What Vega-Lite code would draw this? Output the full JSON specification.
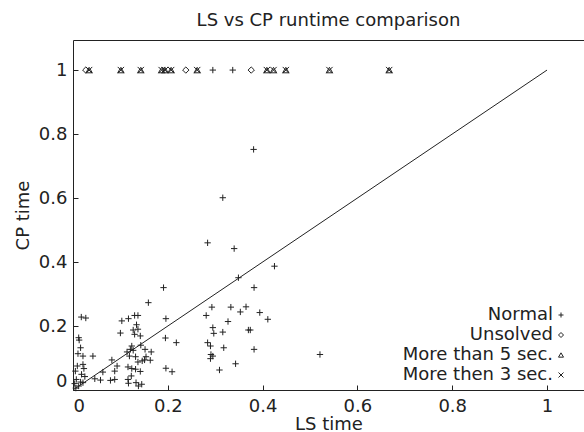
{
  "$schema": "https://vega.github.io/schema/vega-lite/v6.json",
  "width": 511,
  "height": 350,
  "autosize": {"type": "none"},
  "padding": {"left": 73, "top": 40, "right": 0, "bottom": 42},
  "background": "white",
  "config": {
    "font": "DejaVu Sans",
    "view": {"stroke": null},
    "axis": {
      "grid": false,
      "domainColor": "#222",
      "tickColor": "#222",
      "labelColor": "#222",
      "titleColor": "#222",
      "labelFontSize": 18,
      "titleFontSize": 18,
      "titleFontWeight": "normal",
      "tickSize": -5,
      "labelFlush": true
    }
  },
  "title": {"text": "LS vs CP runtime comparison", "fontSize": 18, "fontWeight": "normal", "color": "#222", "offset": 10, "anchor": "middle"},
  "datasets": {
    "diag": [{"ls": 0, "cp": 0}, {"ls": 1, "cp": 1}],
    "pts": [
      {"ls": 0.027, "cp": 1, "type": "Unsolved"},
      {"ls": 0.238, "cp": 1, "type": "Unsolved"},
      {"ls": 0.376, "cp": 1, "type": "Unsolved"},
      {"ls": 0.295, "cp": 1, "type": "Normal"},
      {"ls": 0.337, "cp": 1, "type": "Normal"},
      {"ls": 0.034, "cp": 1, "type": "More than 5 sec."},
      {"ls": 0.101, "cp": 1, "type": "More than 5 sec."},
      {"ls": 0.143, "cp": 1, "type": "More than 5 sec."},
      {"ls": 0.187, "cp": 1, "type": "More than 5 sec."},
      {"ls": 0.194, "cp": 1, "type": "More than 5 sec."},
      {"ls": 0.207, "cp": 1, "type": "More than 5 sec."},
      {"ls": 0.262, "cp": 1, "type": "More than 5 sec."},
      {"ls": 0.409, "cp": 1, "type": "More than 5 sec."},
      {"ls": 0.423, "cp": 1, "type": "More than 5 sec."},
      {"ls": 0.449, "cp": 1, "type": "More than 5 sec."},
      {"ls": 0.541, "cp": 1, "type": "More than 5 sec."},
      {"ls": 0.667, "cp": 1, "type": "More than 5 sec."},
      {"ls": 0.034, "cp": 1, "type": "More then 3 sec."},
      {"ls": 0.101, "cp": 1, "type": "More then 3 sec."},
      {"ls": 0.143, "cp": 1, "type": "More then 3 sec."},
      {"ls": 0.187, "cp": 1, "type": "More then 3 sec."},
      {"ls": 0.194, "cp": 1, "type": "More then 3 sec."},
      {"ls": 0.207, "cp": 1, "type": "More then 3 sec."},
      {"ls": 0.262, "cp": 1, "type": "More then 3 sec."},
      {"ls": 0.409, "cp": 1, "type": "More then 3 sec."},
      {"ls": 0.423, "cp": 1, "type": "More then 3 sec."},
      {"ls": 0.449, "cp": 1, "type": "More then 3 sec."},
      {"ls": 0.541, "cp": 1, "type": "More then 3 sec."},
      {"ls": 0.667, "cp": 1, "type": "More then 3 sec."},
      {"ls": 0.381, "cp": 0.752, "type": "Normal"},
      {"ls": 0.316, "cp": 0.601, "type": "Normal"},
      {"ls": 0.284, "cp": 0.46, "type": "Normal"},
      {"ls": 0.34, "cp": 0.442, "type": "Normal"},
      {"ls": 0.425, "cp": 0.387, "type": "Normal"},
      {"ls": 0.349, "cp": 0.351, "type": "Normal"},
      {"ls": 0.382, "cp": 0.32, "type": "Normal"},
      {"ls": 0.191, "cp": 0.32, "type": "Normal"},
      {"ls": 0.159, "cp": 0.273, "type": "Normal"},
      {"ls": 0.293, "cp": 0.259, "type": "Normal"},
      {"ls": 0.333, "cp": 0.259, "type": "Normal"},
      {"ls": 0.365, "cp": 0.26, "type": "Normal"},
      {"ls": 0.353, "cp": 0.244, "type": "Normal"},
      {"ls": 0.394, "cp": 0.242, "type": "Normal"},
      {"ls": 0.411, "cp": 0.221, "type": "Normal"},
      {"ls": 0.281, "cp": 0.233, "type": "Normal"},
      {"ls": 0.327, "cp": 0.214, "type": "Normal"},
      {"ls": 0.196, "cp": 0.223, "type": "Normal"},
      {"ls": 0.0175, "cp": 0.228, "type": "Normal"},
      {"ls": 0.027, "cp": 0.225, "type": "Normal"},
      {"ls": 0.13, "cp": 0.233, "type": "Normal"},
      {"ls": 0.137, "cp": 0.233, "type": "Normal"},
      {"ls": 0.117, "cp": 0.223, "type": "Normal"},
      {"ls": 0.103, "cp": 0.216, "type": "Normal"},
      {"ls": 0.134, "cp": 0.204, "type": "Normal"},
      {"ls": 0.127, "cp": 0.1875, "type": "Normal"},
      {"ls": 0.137, "cp": 0.19, "type": "Normal"},
      {"ls": 0.1, "cp": 0.178, "type": "Normal"},
      {"ls": 0.13, "cp": 0.174, "type": "Normal"},
      {"ls": 0.142, "cp": 0.169, "type": "Normal"},
      {"ls": 0.295, "cp": 0.195, "type": "Normal"},
      {"ls": 0.297, "cp": 0.177, "type": "Normal"},
      {"ls": 0.316, "cp": 0.181, "type": "Normal"},
      {"ls": 0.37, "cp": 0.1875, "type": "Normal"},
      {"ls": 0.374, "cp": 0.1875, "type": "Normal"},
      {"ls": 0.012, "cp": 0.1635, "type": "Normal"},
      {"ls": 0.013, "cp": 0.156, "type": "Normal"},
      {"ls": 0.195, "cp": 0.1625, "type": "Normal"},
      {"ls": 0.218, "cp": 0.148, "type": "Normal"},
      {"ls": 0.284, "cp": 0.148, "type": "Normal"},
      {"ls": 0.29, "cp": 0.1375, "type": "Normal"},
      {"ls": 0.318, "cp": 0.132, "type": "Normal"},
      {"ls": 0.382, "cp": 0.127, "type": "Normal"},
      {"ls": 0.016, "cp": 0.132, "type": "Normal"},
      {"ls": 0.0105, "cp": 0.1135, "type": "Normal"},
      {"ls": 0.021, "cp": 0.106, "type": "Normal"},
      {"ls": 0.042, "cp": 0.106, "type": "Normal"},
      {"ls": 0.124, "cp": 0.1375, "type": "Normal"},
      {"ls": 0.121, "cp": 0.127, "type": "Normal"},
      {"ls": 0.114, "cp": 0.119, "type": "Normal"},
      {"ls": 0.127, "cp": 0.124, "type": "Normal"},
      {"ls": 0.143, "cp": 0.14, "type": "Normal"},
      {"ls": 0.152, "cp": 0.127, "type": "Normal"},
      {"ls": 0.165, "cp": 0.119, "type": "Normal"},
      {"ls": 0.119, "cp": 0.106, "type": "Normal"},
      {"ls": 0.132, "cp": 0.104, "type": "Normal"},
      {"ls": 0.154, "cp": 0.104, "type": "Normal"},
      {"ls": 0.163, "cp": 0.093, "type": "Normal"},
      {"ls": 0.146, "cp": 0.091, "type": "Normal"},
      {"ls": 0.137, "cp": 0.0875, "type": "Normal"},
      {"ls": 0.151, "cp": 0.094, "type": "Normal"},
      {"ls": 0.082, "cp": 0.094, "type": "Normal"},
      {"ls": 0.093, "cp": 0.075, "type": "Normal"},
      {"ls": 0.088, "cp": 0.059, "type": "Normal"},
      {"ls": 0.063, "cp": 0.056, "type": "Normal"},
      {"ls": 0.116, "cp": 0.072, "type": "Normal"},
      {"ls": 0.124, "cp": 0.067, "type": "Normal"},
      {"ls": 0.132, "cp": 0.065, "type": "Normal"},
      {"ls": 0.142, "cp": 0.058, "type": "Normal"},
      {"ls": 0.123, "cp": 0.044, "type": "Normal"},
      {"ls": 0.116, "cp": 0.033, "type": "Normal"},
      {"ls": 0.117, "cp": 0.021, "type": "Normal"},
      {"ls": 0.133, "cp": 0.023, "type": "Normal"},
      {"ls": 0.145, "cp": 0.018, "type": "Normal"},
      {"ls": 0.138, "cp": 0.0125, "type": "Normal"},
      {"ls": 0.088, "cp": 0.033, "type": "Normal"},
      {"ls": 0.079, "cp": 0.03, "type": "Normal"},
      {"ls": 0.058, "cp": 0.031, "type": "Normal"},
      {"ls": 0.046, "cp": 0.035, "type": "Normal"},
      {"ls": 0.291, "cp": 0.111, "type": "Normal"},
      {"ls": 0.295, "cp": 0.106, "type": "Normal"},
      {"ls": 0.29, "cp": 0.098, "type": "Normal"},
      {"ls": 0.343, "cp": 0.082, "type": "Normal"},
      {"ls": 0.309, "cp": 0.0625, "type": "Normal"},
      {"ls": 0.196, "cp": 0.068, "type": "Normal"},
      {"ls": 0.209, "cp": 0.057, "type": "Normal"},
      {"ls": 0.521, "cp": 0.111, "type": "Normal"},
      {"ls": 0.0091, "cp": 0.075, "type": "Normal"},
      {"ls": 0.021, "cp": 0.08, "type": "Normal"},
      {"ls": 0.023, "cp": 0.067, "type": "Normal"},
      {"ls": 0.005, "cp": 0.059, "type": "Normal"},
      {"ls": 0.018, "cp": 0.049, "type": "Normal"},
      {"ls": 0.007, "cp": 0.033, "type": "Normal"},
      {"ls": 0.016, "cp": 0.025, "type": "Normal"},
      {"ls": 0.021, "cp": 0.023, "type": "Normal"},
      {"ls": 0.0035, "cp": 0.02, "type": "Normal"},
      {"ls": 0.012, "cp": 0.0125, "type": "Normal"},
      {"ls": 0.006, "cp": 0.006, "type": "Normal"},
      {"ls": 0.025, "cp": 0.042, "type": "Normal"}
    ]
  },
  "layer": [
    {
      "data": {"name": "diag"},
      "mark": {"type": "line", "color": "#222", "strokeWidth": 1},
      "encoding": {
        "x": {"field": "ls", "type": "quantitative", "scale": {"domain": [0, 1.078], "nice": false, "zero": false},
              "axis": {"orient": "top", "labels": false, "ticks": false, "title": null}},
        "y": {"field": "cp", "type": "quantitative", "scale": {"domain": [0, 1.094], "nice": false, "zero": false},
              "axis": {"values": [0, 0.2, 0.4, 0.6, 0.8, 1], "format": "~g", "title": "CP time", "labelPadding": 11, "titlePadding": 6}}
      }
    },
    {
      "data": {"name": "pts"},
      "mark": {"type": "point", "filled": false, "strokeWidth": 1, "color": "#222", "opacity": 1, "size": 40},
      "encoding": {
        "x": {"field": "ls", "type": "quantitative", "scale": {"domain": [0, 1.078], "nice": false, "zero": false},
              "axis": {"orient": "bottom", "values": [0, 0.2, 0.4, 0.6, 0.8, 1], "format": "~g", "title": "LS time", "labelPadding": 12, "titlePadding": 0}},
        "y": {"field": "cp", "type": "quantitative", "scale": {"domain": [0, 1.094], "nice": false, "zero": false},
              "axis": {"values": [0, 0.2, 0.4, 0.6, 0.8, 1], "format": "~g", "title": "CP time", "labelPadding": 11, "titlePadding": 6}},
        "shape": {
          "field": "type", "type": "nominal",
          "scale": {
            "domain": ["Normal", "Unsolved", "More than 5 sec.", "More then 3 sec."],
            "range": ["M-1,0L1,0M0,-1L0,1", "diamond", "triangle-up", "M-1,-1L1,1M-1,1L1,-1"]
          },
          "legend": {
            "orient": "none", "legendX": 479, "legendY": 266, "title": null,
            "labelAlign": "right", "labelOffset": -17, "labelFontSize": 18, "labelColor": "#222",
            "labelLimit": 300, "symbolSize": 25, "symbolStrokeWidth": 1, "symbolStrokeColor": "#222",
            "symbolFillColor": "transparent", "rowPadding": 2, "padding": 0
          }
        }
      }
    }
  ],
  "resolve": {"axis": {"x": "independent"}}
}
